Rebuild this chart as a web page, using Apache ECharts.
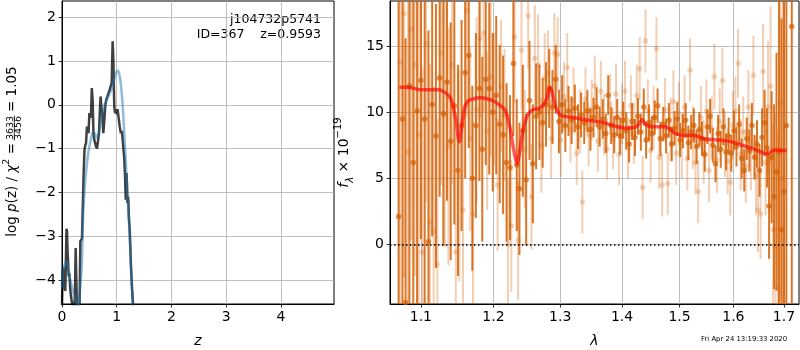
<!DOCTYPE html>
<html>
<head>
<meta charset="utf-8">
<script src="https://cdn.jsdelivr.net/npm/echarts@6.0.0/dist/echarts.min.js"></script>
<style>
  html, body { margin: 0; padding: 0; background: #fff; }
  #chart { width: 800px; height: 350px; }
</style>
</head>
<body>
<div id="chart"></div>
<script>
// ---- left panel: log p(z) ----
const zTicks = [0, 1, 2, 3, 4];
const logpTicks = [-4, -3, -2, -1, 0, 1, 2];

const zDark = [
  0.000, 0.008, 0.018, 0.030, 0.045, 0.060, 0.072, 0.082, 0.092, 0.100,
  0.110, 0.122, 0.135, 0.150, 0.165, 0.180, 0.195, 0.210, 0.235, 0.250,
  0.262, 0.275, 0.300, 0.320, 0.335, 0.350, 0.365, 0.380, 0.395, 0.410,
  0.420, 0.440, 0.455, 0.470, 0.485, 0.500, 0.515, 0.530, 0.545, 0.560,
  0.575, 0.590, 0.605, 0.620, 0.640, 0.660, 0.676, 0.690, 0.705, 0.718,
  0.735, 0.755, 0.774, 0.790, 0.810, 0.830, 0.850, 0.870, 0.890, 0.908,
  0.925, 0.940, 0.955, 0.970, 0.985, 1.000, 1.015, 1.035, 1.055, 1.075,
  1.095, 1.115, 1.135, 1.150, 1.165, 1.172, 1.180, 1.195, 1.210, 1.220,
  1.240, 1.260, 1.280, 1.300
];
const logpDark = [
  -4.60, -4.00, -3.72, -3.85, -4.15, -4.25, -3.50, -2.83, -2.90, -3.30,
  -3.55, -3.92, -3.85, -4.20, -4.38, -4.50, -4.70, -4.80, -4.40, -3.27,
  -4.00, -4.80, -4.90, -4.70, -3.12, -3.10, -3.05, -2.32, -1.60, -1.05,
  -0.95, -0.87, -0.50, -0.46, -0.65, -0.19, -0.30, -0.25, 0.38, 0.10,
  -0.65, -0.80, -0.87, -0.95, -1.00, -1.03, -0.65, -0.20, 0.19, -0.03,
  -0.19, -0.65, -0.35, -0.03, 0.12, 0.19, 0.15, 0.34, 0.30, 0.50,
  1.45, 0.96, -0.04, -0.19, -0.11, -0.22, -0.10, -0.30, -0.50, -0.65,
  -0.60, -0.90, -1.19, -1.56, -2.17, -1.90, -1.56, -2.24, -2.10, -2.50,
  -2.93, -3.69, -4.20, -4.60
];

const zBlue = [
  0.000, 0.015, 0.040, 0.085, 0.120, 0.160, 0.210, 0.260, 0.300, 0.330,
  0.360, 0.390, 0.420, 0.450, 0.480, 0.510, 0.540, 0.570, 0.600, 0.630,
  0.660, 0.690, 0.720, 0.750, 0.780, 0.810, 0.840, 0.870, 0.900, 0.930,
  0.960, 0.990, 1.020, 1.050, 1.080, 1.110, 1.140, 1.170, 1.200, 1.230,
  1.260, 1.290, 1.310
];
const logpBlue = [
  -4.20, -3.85, -3.68, -3.58, -3.80, -4.05, -4.30, -4.50, -4.60, -4.20,
  -3.69, -2.40, -1.80, -1.41, -1.10, -0.90, -0.72, -0.62, -0.66, -0.74,
  -0.68, -0.52, -0.30, -0.12, 0.00, 0.10, 0.18, 0.26, 0.34, 0.45,
  0.60, 0.74, 0.78, 0.68, 0.42, -0.05, -0.70, -1.40, -2.10, -2.85,
  -3.65, -4.50, -5.00
];

// ---- right panel: spectrum ----
const lamTicks = [1.1, 1.2, 1.3, 1.4, 1.5, 1.6, 1.7];
const fluxTicks = [0, 5, 10, 15];

// first beam (solid)
const lamD = [
  1.071, 1.076, 1.080, 1.085, 1.090, 1.095, 1.100, 1.105, 1.110, 1.115,
  1.120, 1.125, 1.130, 1.135, 1.140, 1.145, 1.150, 1.155, 1.160, 1.165,
  1.170, 1.175, 1.180, 1.184, 1.189, 1.194, 1.199, 1.204, 1.209, 1.214,
  1.219, 1.224, 1.229, 1.234, 1.238, 1.243, 1.248, 1.253, 1.258, 1.263,
  1.268, 1.273, 1.278, 1.283, 1.288, 1.293, 1.298, 1.303, 1.308, 1.313,
  1.318, 1.323, 1.328, 1.333, 1.338, 1.343, 1.348, 1.353, 1.358, 1.363,
  1.368, 1.373, 1.377, 1.382, 1.387, 1.392, 1.397, 1.402, 1.407, 1.412,
  1.417, 1.422, 1.427, 1.432, 1.437, 1.441, 1.446, 1.451, 1.456, 1.461,
  1.466, 1.471, 1.476, 1.481, 1.486, 1.491, 1.496, 1.501, 1.506, 1.511,
  1.516, 1.521, 1.526, 1.531, 1.536, 1.541, 1.546, 1.551, 1.556, 1.561,
  1.566, 1.571, 1.576, 1.581, 1.586, 1.591, 1.596, 1.601, 1.606, 1.611,
  1.616, 1.621, 1.626, 1.631, 1.636, 1.641, 1.646, 1.651, 1.656, 1.661,
  1.666, 1.670, 1.675, 1.680, 1.685, 1.690, 1.695, 1.700, 1.705, 1.716
];
const fluxD = [
  2.1, 9.5, -4.4, 12.0, 6.2, 10.1, 12.4, 9.5, 0.2, 10.6,
  8.2, 12.6, 9.9, 12.3, 7.8, 10.5, 5.6, 9.0, 13.0, 14.3,
  5.0, 9.0, 11.8, 7.2, 12.5, 11.8, 10.0, 11.3, 9.1, 8.3,
  6.2, 5.8, 13.7, 6.0, 4.2, 8.6, 4.9, 10.9, 6.1, 9.7,
  10.0, 9.2, 10.6, 11.8, 10.4, 12.5, 9.3, 10.6, 9.0, 10.1,
  9.4, 10.3, 8.9, 9.8, 9.2, 10.1, 8.7, 9.6, 10.4, 8.9,
  9.5, 8.4, 11.3, 9.0, 8.3, 9.6, 8.2, 9.4, 8.6, 7.6,
  9.3, 8.1, 9.7, 8.5, 10.4, 7.9, 9.2, 8.4, 9.6, 10.5,
  8.0, 9.1, 8.2, 9.4, 7.6, 8.8, 9.5, 7.9, 8.6, 9.4,
  7.7, 8.5, 9.0, 7.4, 8.7, 8.0, 6.8, 8.9, 9.7, 7.5,
  6.1, 8.4, 7.2, 8.9, 7.0, 8.2, 6.9, 8.6, 7.4, 9.1,
  6.5, 5.6, 8.0, 7.1, 9.0, 6.6, 7.6, 5.6, 8.1, 9.2,
  7.3, 2.9, 6.6, 3.6, 5.5, 7.0, 1.1, 4.0, 9.0, 16.5
];
const errD = [
  22, 20, 20, 18, 16, 17, 12, 14, 16, 10,
  10, 9, 10, 9, 9, 9, 8, 8, 8, 7,
  7, 7, 7, 7, 6.5, 6.5, 6, 6, 6, 6,
  6, 5.5, 5.5, 5, 5, 5, 5, 4.5, 4.5, 4,
  3.6, 3.4, 3.2, 3, 2.8, 2.6, 2.4, 2.2, 2, 1.9,
  1.8, 1.8, 1.7, 1.7, 1.6, 1.6, 1.6, 1.5, 1.5, 1.5,
  1.5, 1.5, 1.5, 1.4, 1.4, 1.4, 1.4, 1.4, 1.4, 1.4,
  1.4, 1.4, 1.4, 1.4, 1.4, 1.4, 1.4, 1.3, 1.3, 1.3,
  1.3, 1.3, 1.3, 1.3, 1.3, 1.3, 1.3, 1.3, 1.3, 1.3,
  1.3, 1.3, 1.3, 1.3, 1.3, 1.3, 1.3, 1.3, 1.3, 1.3,
  1.4, 1.4, 1.4, 1.4, 1.4, 1.4, 1.4, 1.5, 1.5, 1.5,
  1.5, 1.6, 1.6, 1.6, 1.7, 1.7, 1.8, 2, 2.2, 2.5,
  3, 4, 5, 7, 9, 12, 16, 20, 25, 25
];

// second beam (faint)
const lamL = [
  1.073, 1.078, 1.083, 1.087, 1.092, 1.097, 1.102, 1.107, 1.112, 1.117,
  1.122, 1.127, 1.132, 1.137, 1.142, 1.147, 1.152, 1.157, 1.162, 1.167,
  1.171, 1.176, 1.181, 1.186, 1.191, 1.196, 1.201, 1.206, 1.211, 1.216,
  1.221, 1.226, 1.231, 1.236, 1.241, 1.246, 1.251, 1.256, 1.261, 1.266,
  1.271, 1.276, 1.281, 1.286, 1.291, 1.296, 1.301, 1.306, 1.311, 1.316,
  1.321, 1.326, 1.331, 1.335, 1.340, 1.345, 1.350, 1.355, 1.360, 1.365,
  1.370, 1.375, 1.380, 1.385, 1.390, 1.395, 1.400, 1.405, 1.410, 1.415,
  1.420, 1.425, 1.430, 1.435, 1.440, 1.444, 1.449, 1.454, 1.459, 1.464,
  1.469, 1.474, 1.479, 1.484, 1.489, 1.494, 1.499, 1.504, 1.509, 1.514,
  1.519, 1.524, 1.529, 1.534, 1.539, 1.544, 1.549, 1.554, 1.559, 1.564,
  1.569, 1.574, 1.579, 1.584, 1.589, 1.594, 1.599, 1.604, 1.609, 1.614,
  1.619, 1.624, 1.629, 1.634, 1.639, 1.644, 1.648, 1.653, 1.658, 1.663,
  1.668, 1.673, 1.678, 1.683, 1.688, 1.693, 1.698
];
const fluxL = [
  13.8, 17.5, 7.0, 16.3, 13.6, 8.3, -0.6, 15.2, 1.7, 1.0,
  -1.5, 14.5, 9.8, 7.4, 13.6, -0.6, 5.2, 2.6, 17.7, 8.0,
  2.3, 10.2, 15.6, 16.0, 8.6, 12.7, 11.0, 4.5, 12.0, 9.8,
  0.0, 1.4, 15.7, 0.3, 14.7, 7.2, 17.3, 3.6, 14.1, 13.6,
  7.5, 12.6, 13.0, 8.0, 14.5, 14.4, 7.9, 11.2, 13.4, 8.7,
  10.9, 6.9, 9.3, 3.2, 11.0, 8.3, 10.2, 12.0, 7.8, 11.6,
  9.1, 7.2, 10.6, 8.0, 11.4, 6.8, 9.9, 11.6, 7.3, 10.5,
  8.4, 11.3, 13.3, 4.3, 15.4, 10.1, 7.1, 9.6, 14.8, 6.6,
  4.5, 10.2, 4.6, 8.7, 10.8, 6.9, 9.9, 7.4, 10.4, 6.5,
  13.2, 8.1, 6.2, 4.0, 9.6, 7.0, 10.1, 5.6, 8.8, 12.7,
  6.4, 9.3, 12.4, 7.6, 6.3, 4.7, 9.0, 10.1, 13.7, 6.8,
  8.5, 5.9, 10.4, 7.0, 12.8, 5.2, 2.6, 2.3, 13.1, 6.2,
  10.4, 12.0, 1.1, -0.1, -3.3, 10.7, 5.0
];
const errL = [
  20, 20, 18, 16, 16, 15, 14, 12, 12, 11,
  11, 10, 10, 9, 9, 9, 8, 8, 8, 7,
  7, 7, 6, 6, 6, 6, 5, 5, 5, 5,
  5, 5, 5, 4.5, 4.5, 4.5, 4, 4, 4, 3.8,
  3.6, 3.4, 3.2, 3, 3, 2.8, 2.8, 2.6, 2.6, 2.5,
  2.5, 2.4, 2.4, 2.4, 2.4, 2.4, 2.3, 2.3, 2.3, 2.3,
  2.3, 2.3, 2.3, 2.3, 2.3, 2.3, 2.3, 2.3, 2.3, 2.3,
  2.3, 2.3, 2.4, 2.4, 2.4, 2.4, 2.4, 2.4, 2.4, 2.4,
  2.4, 2.4, 2.4, 2.4, 2.4, 2.4, 2.4, 2.4, 2.4, 2.4,
  2.4, 2.4, 2.4, 2.4, 2.4, 2.4, 2.4, 2.4, 2.4, 2.5,
  2.5, 2.5, 2.5, 2.5, 2.5, 2.5, 2.6, 2.6, 2.6, 2.7,
  2.7, 2.8, 2.8, 2.9, 3, 3, 3.2, 3.4, 3.6, 4,
  5, 6, 8, 10, 12, 15, 18
];

// best-fit model
const lamModel = [
  1.072, 1.080, 1.088, 1.099, 1.112, 1.125, 1.132, 1.137, 1.141, 1.144,
  1.147, 1.149, 1.1515, 1.153, 1.155, 1.158, 1.161, 1.165, 1.170, 1.180,
  1.190, 1.202, 1.210, 1.215, 1.219, 1.222, 1.226, 1.229, 1.232, 1.2347,
  1.237, 1.240, 1.244, 1.250, 1.258, 1.268, 1.276, 1.280, 1.284, 1.287,
  1.290, 1.294, 1.298, 1.302, 1.320, 1.345, 1.371, 1.392, 1.408, 1.419,
  1.426, 1.431, 1.434, 1.437, 1.441, 1.450, 1.469, 1.481, 1.492, 1.509,
  1.527, 1.545, 1.574, 1.593, 1.613, 1.633, 1.648, 1.664, 1.671, 1.681,
  1.690, 1.697, 1.705
];
const fluxModel = [
  11.9, 11.9, 11.85, 11.7, 11.7, 11.7, 11.5, 11.3, 10.9, 10.3,
  9.5, 8.6, 7.75, 7.9, 8.9, 10.0, 10.6, 10.9, 11.0, 11.1,
  11.05, 10.8, 10.5, 10.3, 9.9, 9.3, 8.3, 7.3, 6.5, 6.1,
  6.6, 7.6, 8.8, 9.8, 10.2, 10.3, 10.7, 11.2, 11.9, 11.6,
  11.0, 10.3, 9.9, 9.75, 9.6, 9.4, 9.2, 8.9, 8.8, 8.85,
  8.95, 9.3, 9.45, 9.25, 9.05, 8.9, 8.9, 8.8, 8.4, 8.25,
  8.25, 8.0, 7.9, 7.8, 7.55, 7.3, 7.1, 6.85, 6.95, 7.15,
  7.15, 7.1, 7.1
];

const FONT = 'DejaVu Sans';
const GRID_COLOR = '#b0b0b0';
const ORANGE = 'rgba(213,94,0,0.85)';
const ORANGE_FAINT = 'rgba(213,94,0,0.3)';

const chart = echarts.init(document.getElementById('chart'), null, { renderer: 'canvas' });

const minus = v => (v < 0 ? '\u2212' + (-v) : String(v));
const zip = (a, b) => a.map((v, i) => [v, b[i]]);

function axisBase(gridIndex, ticks, formatter) {
  return {
    type: 'value',
    gridIndex: gridIndex,
    axisLine: { show: true, onZero: false, lineStyle: { color: '#000', width: 1 } },
    axisTick: { show: true, length: 3.5, customValues: ticks, lineStyle: { color: '#000', width: 0.8 } },
    axisLabel: { customValues: ticks, color: '#000', fontSize: 14, fontFamily: FONT, margin: 6, formatter: formatter },
    splitLine: { show: true, lineStyle: { color: GRID_COLOR, width: 0.8 } }
  };
}

function errorBars(lam, flux, err, color) {
  return {
    type: 'custom',
    xAxisIndex: 1,
    yAxisIndex: 1,
    clip: true,
    silent: true,
    data: lam.map((l, i) => [Math.log(l), flux[i], err[i]]),
    renderItem: function (params, api) {
      const x = api.value(0);
      const lo = api.coord([x, api.value(1) - api.value(2)]);
      const hi = api.coord([x, api.value(1) + api.value(2)]);
      return {
        type: 'line',
        shape: { x1: lo[0], y1: lo[1], x2: hi[0], y2: hi[1] },
        style: { stroke: color, lineWidth: 2 }
      };
    }
  };
}

function points(lam, flux, color) {
  return {
    type: 'scatter',
    xAxisIndex: 1,
    yAxisIndex: 1,
    symbol: 'circle',
    symbolSize: 5.5,
    silent: true,
    itemStyle: { color: color },
    data: lam.map((l, i) => [Math.log(l), flux[i]])
  };
}

const lamLog = lamTicks.map(Math.log);

const option = {
  animation: false,
  backgroundColor: '#fff',
  grid: [
    { left: 62, top: 1, width: 272, height: 303, show: true, borderColor: '#000', borderWidth: 1, outerBoundsMode: 'none' },
    { left: 390, top: 1, width: 409, height: 303, show: true, borderColor: '#000', borderWidth: 1, outerBoundsMode: 'none' }
  ],
  xAxis: [
    Object.assign(axisBase(0, zTicks, v => String(v)), {
      min: 0, max: 4.97,
      name: 'z', nameLocation: 'middle', nameGap: 30,
      nameTextStyle: { fontStyle: 'italic', fontSize: 14, color: '#000', fontFamily: FONT }
    }),
    Object.assign(axisBase(1, lamLog, v => Math.exp(v).toFixed(1)), {
      min: Math.log(1.06), max: Math.log(1.731),
      name: '\u03bb', nameLocation: 'middle', nameGap: 30,
      nameTextStyle: { fontStyle: 'italic', fontSize: 14, color: '#000', fontFamily: FONT }
    })
  ],
  yAxis: [
    Object.assign(axisBase(0, logpTicks, minus), { min: -4.55, max: 2.37 }),
    Object.assign(axisBase(1, fluxTicks, minus), {
      min: -4.52, max: 18.43,
      name: '{f|f}{s|\u03bb}{n| \u00d7 10}{p|\u221219}',
      nameLocation: 'middle', nameGap: 35, nameRotate: 90,
      nameTextStyle: {
        color: '#000', fontFamily: FONT,
        rich: {
          f: { fontSize: 14, fontStyle: 'italic', fontFamily: FONT, lineHeight: 22 },
          s: { fontSize: 10, fontStyle: 'italic', fontFamily: FONT, verticalAlign: 'bottom', lineHeight: 12 },
          n: { fontSize: 14, fontFamily: FONT, lineHeight: 22 },
          p: { fontSize: 10, fontFamily: FONT, verticalAlign: 'top', lineHeight: 12 }
        }
      }
    })
  ],
  graphic: [
    {
      type: 'text', x: 321, y: 20,
      style: { text: 'j104732p5741', fontSize: 12.5, fontFamily: FONT, fill: '#000', align: 'right', verticalAlign: 'middle' }
    },
    {
      type: 'text', x: 321, y: 35,
      style: { text: 'ID=367    z=0.9593', fontSize: 12.5, fontFamily: FONT, fill: '#000', align: 'right', verticalAlign: 'middle' }
    },
    {
      type: 'text', x: 701, y: 339,
      style: { text: 'Fri Apr 24 13:19:33 2020', fontSize: 6.9, fontFamily: FONT, fill: '#000', align: 'left', verticalAlign: 'middle' }
    },
    {
      // y-axis title of the left panel, with a stacked fraction
      type: 'group', x: 14.3, y: 128, rotation: Math.PI / 2,
      children: [
        {
          type: 'text', x: -15, y: -2.3,
          style: {
            text: '{n|log }{i|p}{n|(z) / }{i|\u03c7}{s|2}{n| =}',
            align: 'right', verticalAlign: 'middle', fill: '#000',
            rich: {
              n: { fontSize: 13.5, fontFamily: FONT, lineHeight: 20 },
              i: { fontSize: 13.5, fontFamily: FONT, fontStyle: 'italic', lineHeight: 20 },
              s: { fontSize: 9.5, fontFamily: FONT, verticalAlign: 'top', lineHeight: 12 }
            }
          }
        },
        {
          type: 'text', x: 0, y: -3.8,
          style: { text: '3633', fontSize: 9.5, fontFamily: FONT, fill: '#000', align: 'center', verticalAlign: 'middle' }
        },
        {
          type: 'line', shape: { x1: -12.5, y1: 0, x2: 12.5, y2: 0 },
          style: { stroke: '#000', lineWidth: 0.8 }
        },
        {
          type: 'text', x: 0, y: 4.2,
          style: { text: '3456', fontSize: 9.5, fontFamily: FONT, fill: '#000', align: 'center', verticalAlign: 'middle' }
        },
        {
          type: 'text', x: 16, y: -2.3,
          style: { text: '= 1.05', fontSize: 13.5, fontFamily: FONT, fill: '#000', align: 'left', verticalAlign: 'middle' }
        }
      ]
    }
  ],
  series: [
    {
      type: 'line', xAxisIndex: 0, yAxisIndex: 0, showSymbol: false, silent: true, z: 2,
      lineStyle: { color: 'rgba(0,0,0,0.75)', width: 2.5 },
      data: zip(zDark, logpDark)
    },
    {
      type: 'line', xAxisIndex: 0, yAxisIndex: 0, showSymbol: false, silent: true, z: 3, smooth: 0.4,
      lineStyle: { color: 'rgba(31,119,180,0.5)', width: 2.5 },
      data: zip(zBlue, logpBlue)
    },
    errorBars(lamL, fluxL, errL, ORANGE_FAINT),
    points(lamL, fluxL, ORANGE_FAINT),
    errorBars(lamD, fluxD, errD, ORANGE),
    points(lamD, fluxD, ORANGE),
    {
      type: 'line', xAxisIndex: 1, yAxisIndex: 1, showSymbol: false, silent: true, z: 4, smooth: 0.2,
      lineStyle: { color: 'rgba(255,0,0,0.65)', width: 3.5 },
      data: lamModel.map((l, i) => [Math.log(l), fluxModel[i]]),
      markLine: {
        silent: true, symbol: ['none', 'none'], label: { show: false },
        lineStyle: { color: '#000', type: [1.5, 2.5], width: 1.5 },
        data: [{ yAxis: 0 }]
      }
    }
  ]
};

chart.setOption(option);
</script>
</body>
</html>
